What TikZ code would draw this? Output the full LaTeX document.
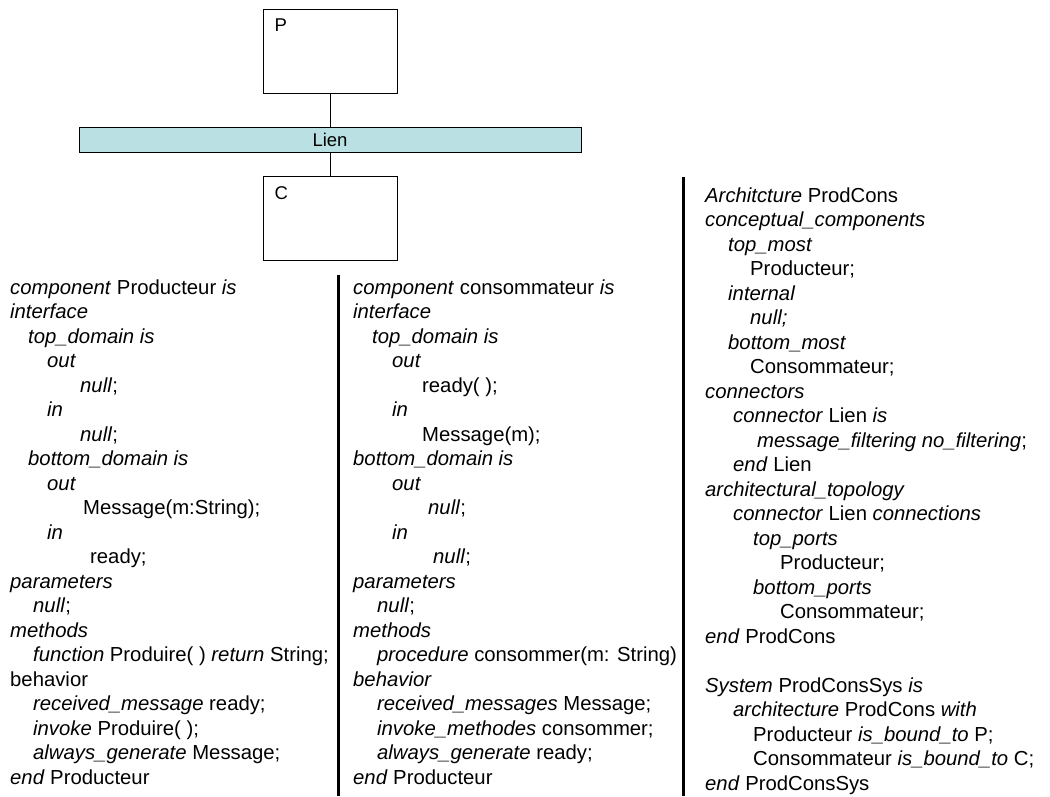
\documentclass[tikz,border=0pt]{standalone}
\usepackage{fontspec}
\setmainfont{Liberation Sans}
\usetikzlibrary{calc}
\definecolor{lienfill}{RGB}{186,224,227}
\begin{document}
\begin{tikzpicture}[x=1pt,y=-1pt,
  compbox/.style={draw=black,line width=1pt,minimum width=134pt,minimum height=84pt,inner sep=0pt},
  boxlabel/.style={anchor=base west,inner sep=0pt,font=\fontsize{18.5}{22}\selectfont},
  linkbar/.style={draw=black,line width=1pt,fill=lienfill,minimum width=502pt,minimum height=25pt,inner sep=0pt,font=\fontsize{18.5}{22}\selectfont},
  wire/.style={line width=1pt},
  codecol/.style={anchor=north west,inner sep=0pt,align=left,font=\fontsize{20.3}{24.5}\selectfont},
  divider/.style={line width=3pt}]
  \path[fill=white,use as bounding box] (0,0) rectangle (1050,796);

  % component / connector sketch
  \node[compbox] (P) at (330,51) {};
  \node[boxlabel] (Plabel) at ([shift={(12,23)}]P.north west) {P};
  \node[linkbar] (lien) at (330,139.5) {Lien};
  \node[compbox] (C) at (330,218) {};
  \node[boxlabel] (Clabel) at ([shift={(12,24)}]C.north west) {C};
  \draw[wire] (P.south) -- (lien.north);
  \draw[wire] (lien.south) -- (C.north);

  % column separators
  \coordinate (sepA top) at (338,275);
  \coordinate (sepA bot) at (338,796);
  \coordinate (sepB top) at (683,177);
  \coordinate (sepB bot) at (683,796);
  \draw[divider] (sepA top) -- (sepA bot);
  \draw[divider] (sepB top) -- (sepB bot);

  % producer component
  \node[codecol] (prod) at (10,276.85) {\strut\textit{component} Producteur \textit{is}\\
\textit{interface}\\
\hspace*{18pt}\textit{top\_domain is}\\
\hspace*{37pt}\textit{out}\\
\hspace*{70pt}\textit{null};\\
\hspace*{37pt}\textit{in}\\
\hspace*{70pt}\textit{null};\\
\hspace*{18pt}\textit{bottom\_domain is}\\
\hspace*{37pt}\textit{out}\\
\hspace*{73pt}Message(m:String);\\
\hspace*{37pt}\textit{in}\\
\hspace*{80pt}ready;\\
\textit{parameters}\\
\hspace*{23pt}\textit{null};\\
\textit{methods}\\
\hspace*{23pt}\textit{function} Produire( ) \textit{return} String;\\
behavior\\
\hspace*{23pt}\textit{received\_message} ready;\\
\hspace*{23pt}\textit{invoke} Produire( );\\
\hspace*{23pt}\textit{always\_generate} Message;\\
\textit{end} Producteur};

  % consumer component
  \node[codecol] (cons) at (353,276.85) {\strut\textit{component} consommateur \textit{is}\\
\textit{interface}\\
\hspace*{19pt}\textit{top\_domain is}\\
\hspace*{39pt}\textit{out}\\
\hspace*{69pt}ready( );\\
\hspace*{39pt}\textit{in}\\
\hspace*{69pt}Message(m);\\
\textit{bottom\_domain is}\\
\hspace*{39pt}\textit{out}\\
\hspace*{75pt}\textit{null};\\
\hspace*{39pt}\textit{in}\\
\hspace*{80pt}\textit{null};\\
\textit{parameters}\\
\hspace*{24pt}\textit{null};\\
\textit{methods}\\
\hspace*{24pt}\textit{procedure} consommer(m: String)\\
\textit{behavior}\\
\hspace*{24pt}\textit{received\_messages} Message;\\
\hspace*{24pt}\textit{invoke\_methodes} consommer;\\
\hspace*{24pt}\textit{always\_generate} ready;\\
\textit{end} Producteur};

  % architecture and system
  \node[codecol] (arch) at (705,184.85) {\strut\textit{Architcture} ProdCons\\
\textit{conceptual\_components}\\
\hspace*{23pt}\textit{top\_most}\\
\hspace*{45pt}Producteur;\\
\hspace*{23pt}\textit{internal}\\
\hspace*{45pt}\textit{null;}\\
\hspace*{23pt}\textit{bottom\_most}\\
\hspace*{45pt}Consommateur;\\
\textit{connectors}\\
\hspace*{28pt}\textit{connector} Lien \textit{is}\\
\hspace*{52pt}\textit{message\_filtering no\_filtering};\\
\hspace*{28pt}\textit{end} Lien\\
\textit{architectural\_topology}\\
\hspace*{28pt}\textit{connector} Lien \textit{connections}\\
\hspace*{48pt}\textit{top\_ports}\\
\hspace*{75pt}Producteur;\\
\hspace*{48pt}\textit{bottom\_ports}\\
\hspace*{75pt}Consommateur;\\
\textit{end} ProdCons\\
\strut\\
\textit{System} ProdConsSys \textit{is}\\
\hspace*{28pt}\textit{architecture} ProdCons \textit{with}\\
\hspace*{48pt}Producteur \textit{is\_bound\_to} P;\\
\hspace*{48pt}Consommateur \textit{is\_bound\_to} C;\\
\textit{end} ProdConsSys};
\end{tikzpicture}
\end{document}
